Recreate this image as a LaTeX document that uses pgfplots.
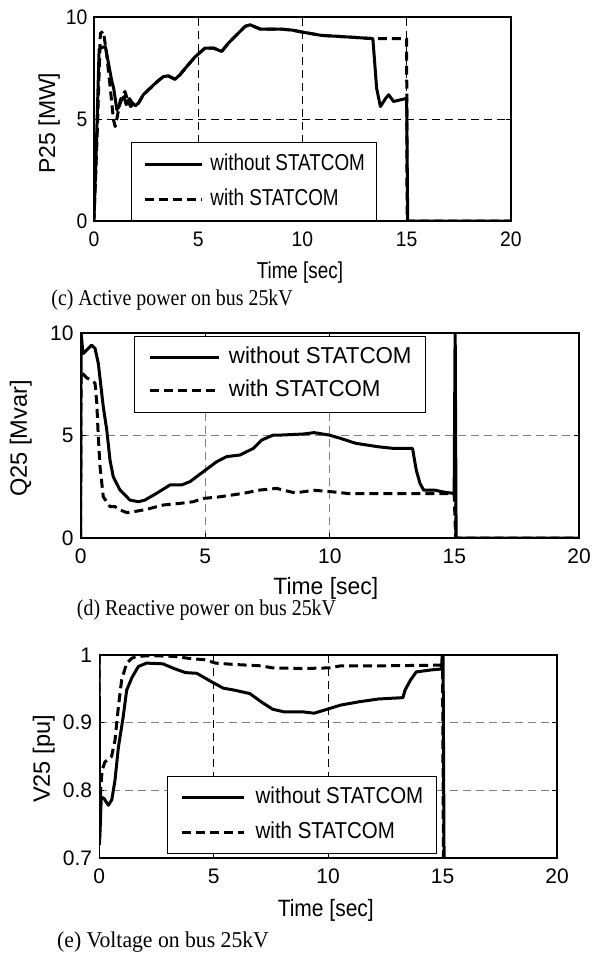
\documentclass[border=0pt]{standalone}
\usepackage{fontspec}
\setmainfont{Liberation Sans}
\newfontfamily\capfont{Liberation Serif}
\usepackage{graphicx}
\usepackage{pgfplots}
\pgfplotsset{compat=1.18}

\pgfplotsset{
  matlab/.style={
    scale only axis, anchor=south west,
    xmin=0, xmax=20, xtick={0,5,10,15,20},
    tick align=inside, tick pos=both, major tick length=2.5bp,
    axis line style={line width=0.6bp},
    every tick/.style={black, line width=0.5bp},
    grid=major,
    /pgf/number format/assume math mode=true,
    legend cell align=left,
    ylabel style={anchor=center},
    xlabel style={anchor=center},
  },
  wo/.style={black, line width=1.5bp, line join=round},
  wi/.style={black, line width=1.5bp, line join=round, dash pattern=on 4.5bp off 2.5bp},
}

\begin{document}
\begin{tikzpicture}
\path[use as bounding box] (0bp,0bp) rectangle (296bp,-477bp);

% (c) active power
\begin{axis}[matlab,
  at={(46.95bp,-110.5bp)}, width=208.5bp, height=102bp,
  ymin=0, ymax=10, ytick={0,5,10},
  grid style={black, line width=0.4bp, dash pattern=on 4bp off 2.5bp},
  ticklabel style={font=\fontsize{10.5bp}{12bp}\selectfont, xscale=0.92},
  xticklabel style={yshift=-2bp},
  xlabel={\scalebox{0.82}[1]{Time [sec]}},
  ylabel={P25 [MW]},
  label style={font=\fontsize{11.5bp}{13bp}\selectfont},
  x label style={at={(axis description cs:0.494,-0.251)}},
  y label style={at={(axis description cs:-0.107,0.48)}},
  legend style={at={(0.088,0)}, anchor=south west, draw=black, line width=0.5bp,
    inner xsep=6bp, inner ysep=5.2bp, row sep=6.5bp, column sep=3.4bp,
    font=\fontsize{11.5bp}{13bp}\selectfont,
    nodes={inner sep=0pt, text height=8.5bp, text depth=2.5bp}},
  legend image code/.code={\draw[#1] (0bp,0bp) -- (28.8bp,0bp);},
]
\addplot[wo] coordinates {(0,0)(0.1,3)(0.25,8.4)(0.35,8.5)(0.55,8.55)(0.65,8.0)(0.85,6.9)(0.95,6.5)(1.1,5.45)(1.2,5.6)(1.33,5.95)(1.45,6.1)(1.55,5.7)(1.7,6.0)(1.85,5.78)(2.0,5.65)(2.15,5.8)(2.37,6.19)(2.69,6.5)(3.0,6.8)(3.33,7.08)(3.57,7.11)(3.89,6.95)(4.12,7.16)(4.45,7.57)(4.85,8.04)(5.33,8.48)(5.73,8.48)(6.13,8.31)(6.45,8.72)(6.85,9.13)(7.25,9.54)(7.49,9.62)(7.97,9.41)(8.92,9.41)(9.5,9.36)(10.0,9.26)(10.9,9.1)(12.2,9.02)(13.38,8.94)(13.56,6.51)(13.74,5.61)(14.0,6.02)(14.14,6.19)(14.37,5.86)(14.92,5.99)(15.0,6.02)(15.05,0)(20,0)};
\addlegendentry{\scalebox{0.82}[1]{without STATCOM}}
\addplot[wi] coordinates {(0,0)(0.15,4)(0.31,9.2)(0.45,9.3)(0.6,8.3)(0.76,6.76)(0.94,4.96)(1.02,4.63)(1.1,5.0)(1.27,5.94)(1.49,6.35)(1.62,5.9)(1.76,5.61)(1.9,5.75)(2.0,5.65)(2.15,5.8)(2.37,6.19)(2.69,6.5)(3.0,6.8)(3.33,7.08)(3.57,7.11)(3.89,6.95)(4.12,7.16)(4.45,7.57)(4.85,8.04)(5.33,8.48)(5.73,8.48)(6.13,8.31)(6.45,8.72)(6.85,9.13)(7.25,9.54)(7.49,9.62)(7.97,9.41)(8.92,9.41)(9.5,9.36)(10.0,9.26)(10.9,9.1)(12.2,9.02)(13.38,8.94)(14.0,8.94)(15.0,8.94)(15.02,0)(20,0)};
\addlegendentry{\scalebox{0.82}[1]{with STATCOM}}
\end{axis}
\node[anchor=base west, inner sep=0pt, font=\capfont\fontsize{11.3bp}{13bp}\selectfont] at (25.5bp,-152.5bp) {\scalebox{0.88}[1]{(c) Active power on bus 25kV}};

% (d) reactive power
\begin{axis}[matlab,
  at={(40.3bp,-269bp)}, width=249.2bp, height=102.5bp,
  ymin=0, ymax=10, ytick={0,5,10},
  grid style={gray, line width=0.4bp, dash pattern=on 4bp off 2.5bp},
  ticklabel style={font=\fontsize{10.5bp}{12bp}\selectfont},
  xticklabel style={yshift=-2bp},
  xlabel={\scalebox{0.97}[1]{Time [sec]}},
  ylabel={Q25 [Mvar]},
  label style={font=\fontsize{11.8bp}{13bp}\selectfont},
  x label style={at={(axis description cs:0.492,-0.245)}},
  y label style={at={(axis description cs:-0.12,0.486)}},
  legend style={at={(0.108,0.985)}, anchor=north west, draw=black, line width=0.5bp,
    inner xsep=7bp, inner ysep=5.2bp, row sep=5.5bp, column sep=4bp,
    font=\fontsize{11.5bp}{13bp}\selectfont,
    nodes={inner sep=0pt, text height=8.5bp, text depth=2.5bp}},
  legend image code/.code={\draw[#1] (0bp,0bp) -- (34.5bp,0bp);},
]
\addplot[wo] coordinates {(0,0)(0.02,10)(0.08,9.2)(0.11,9.0)(0.31,9.25)(0.44,9.41)(0.58,9.25)(0.71,8.52)(0.91,6.4)(1.05,5.27)(1.18,3.8)(1.31,2.99)(1.58,2.34)(1.98,1.85)(2.32,1.77)(2.58,1.85)(3.05,2.18)(3.59,2.59)(4.06,2.59)(4.39,2.75)(4.92,3.23)(5.46,3.72)(5.86,3.97)(6.4,4.05)(6.93,4.37)(7.27,4.78)(7.73,5.02)(8.0,5.02)(8.91,5.07)(9.37,5.14)(9.98,5.02)(10.43,4.86)(11.04,4.62)(11.95,4.45)(12.56,4.37)(13.32,4.37)(13.47,3.31)(13.62,2.66)(13.77,2.33)(14.23,2.33)(14.53,2.25)(14.99,2.17)(15.03,10.5)(15.07,-0.5)(15.1,0)(20,0)};
\addlegendentry{\scalebox{0.97}[1]{without STATCOM}}
\addplot[wi] coordinates {(0,0)(0.02,8.1)(0.26,7.8)(0.44,7.7)(0.58,7.55)(0.65,6.57)(0.71,4.94)(0.78,3.48)(0.91,2.01)(1.18,1.53)(1.38,1.53)(1.58,1.37)(1.85,1.24)(2.12,1.28)(2.65,1.4)(3.32,1.61)(3.99,1.69)(4.52,1.77)(4.92,1.93)(5.59,2.01)(6.53,2.18)(7.2,2.34)(7.87,2.42)(8.15,2.33)(8.61,2.2)(9.37,2.33)(10.13,2.25)(10.74,2.17)(11.95,2.17)(14.99,2.17)(15.05,0)(20,0)};
\addlegendentry{\scalebox{0.97}[1]{with STATCOM}}
\end{axis}
\node[anchor=base west, inner sep=0pt, font=\capfont\fontsize{11.3bp}{13bp}\selectfont] at (38.3bp,-307.5bp) {\scalebox{0.88}[1]{(d) Reactive power on bus 25kV}};

% (e) voltage
\begin{axis}[matlab,
  at={(49.6bp,-429bp)}, width=228.9bp, height=101.5bp,
  ymin=0.7, ymax=1, ytick={0.7,0.8,0.9,1},
  x grid style={black, line width=0.4bp, dash pattern=on 4bp off 2.5bp},
  y grid style={gray, line width=0.4bp, dash pattern=on 4bp off 2.5bp},
  ticklabel style={font=\fontsize{10.5bp}{12bp}\selectfont},
  xticklabel style={yshift=-2bp},
  xlabel={\scalebox{0.89}[1]{Time [sec]}},
  ylabel={V25 [pu]},
  label style={font=\fontsize{11.8bp}{13bp}\selectfont},
  x label style={at={(axis description cs:0.495,-0.256)}},
  y label style={at={(axis description cs:-0.121,0.488)}},
  legend style={at={(0.149,0.018)}, anchor=south west, draw=black, line width=0.5bp,
    inner xsep=6.5bp, inner ysep=5.2bp, row sep=6.5bp, column sep=5.3bp,
    font=\fontsize{11.5bp}{13bp}\selectfont,
    nodes={inner sep=0pt, text height=8.5bp, text depth=2.5bp}},
  legend image code/.code={\draw[#1] (0bp,0bp) -- (30.6bp,0bp);},
]
\addplot[wo] coordinates {(0,1.0)(0.01,0.72)(0.05,0.75)(0.09,0.79)(0.21,0.788)(0.4,0.778)(0.55,0.786)(0.69,0.815)(0.84,0.864)(1.05,0.909)(1.2,0.948)(1.42,0.966)(1.71,0.983)(2.07,0.988)(2.78,0.987)(3.27,0.98)(3.77,0.974)(4.26,0.973)(4.93,0.96)(5.42,0.951)(5.92,0.948)(6.58,0.943)(7.07,0.931)(7.57,0.92)(8.07,0.916)(8.89,0.916)(9.39,0.914)(9.88,0.919)(10.55,0.926)(11.37,0.931)(12.2,0.935)(13.27,0.937)(13.36,0.948)(13.6,0.963)(13.85,0.975)(14.51,0.978)(14.84,0.979)(14.95,0.979)(15.02,1.02)(15.08,0.6)(20,0.6)};
\addlegendentry{\scalebox{0.89}[1]{without STATCOM}}
\addplot[wi] coordinates {(0,1.0)(0.01,0.72)(0.06,0.8)(0.13,0.83)(0.25,0.842)(0.54,0.85)(0.69,0.874)(0.84,0.924)(0.98,0.963)(1.2,0.988)(1.42,0.995)(1.62,0.998)(2.28,0.999)(3.27,0.998)(3.93,0.995)(4.6,0.993)(5.09,0.988)(5.92,0.986)(7.07,0.984)(7.57,0.981)(8.89,0.98)(10.05,0.981)(10.55,0.984)(12.2,0.984)(14.93,0.985)(15.0,0.985)(15.05,0.6)(20,0.6)};
\addlegendentry{\scalebox{0.89}[1]{with STATCOM}}
\end{axis}
\node[anchor=base west, inner sep=0pt, font=\capfont\fontsize{11.3bp}{13bp}\selectfont] at (28.4bp,-473.5bp) {\scalebox{0.96}[1]{(e) Voltage on bus 25kV}};
\end{tikzpicture}
\end{document}
